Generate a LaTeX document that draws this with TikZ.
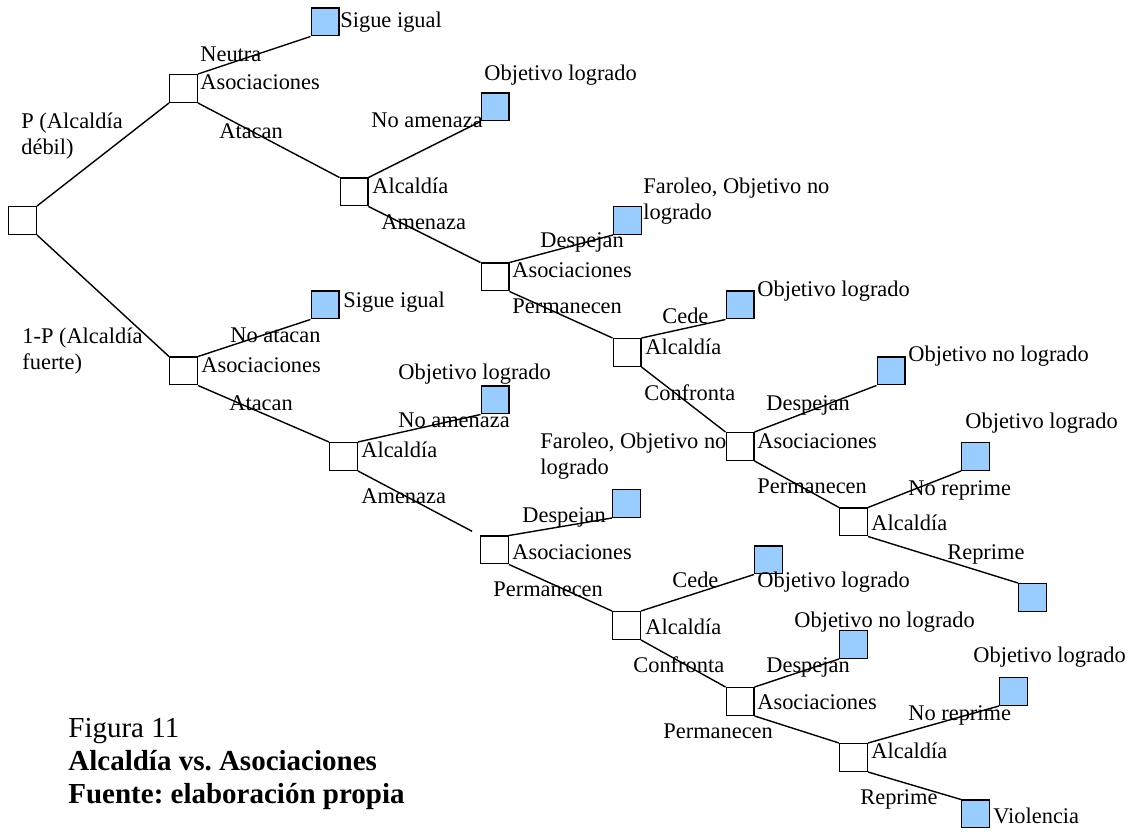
\documentclass[tikz,border=0pt]{standalone}
\usepackage{fontspec}
\setmainfont{Liberation Serif}
\usepackage{tikz}
\definecolor{payblue}{HTML}{99CCFF}
\frenchspacing

\begin{document}
\begin{tikzpicture}[
    x=0.5pt, y=-0.5pt,
    font=\fontsize{11.2}{13}\selectfont,
    decision/.style={rectangle, draw, line width=0.7pt, fill=white, minimum size=13.8pt, inner sep=0pt},
    payoff/.style={decision, fill=payblue},
    lbl/.style={anchor=west, inner sep=0pt, text height=1.6ex, text depth=0.4ex},
    mlbl/.style={anchor=west, inner sep=0pt, align=left},
    branch/.style={line width=0.7pt}
]
    \useasboundingbox (0,0) rectangle (1131,833);

    % Decision boxes
    \node[decision] (root) at (22.5,220.5) {};
    \node[decision] (a1) at (183.5,88.5) {};
    \node[decision] (l1) at (354,192) {};
    \node[decision] (a2) at (495,277) {};
    \node[decision] (l2) at (627,352.5) {};
    \node[decision] (a3) at (740,446.5) {};
    \node[decision] (l3) at (853.5,522) {};
    \node[decision] (a6) at (183.5,371) {};
    \node[decision] (l6) at (343.5,456.5) {};
    \node[decision] (a4) at (494.5,550) {};
    \node[decision] (l4) at (626.5,625.5) {};
    \node[decision] (a5) at (740,701.5) {};
    \node[decision] (l5) at (853.5,757.5) {};

    % Outcome boxes
    \node[payoff] (p1) at (325,22) {};
    \node[payoff] (p2) at (495,107) {};
    \node[payoff] (p3) at (627.5,220.5) {};
    \node[payoff] (p4) at (740,305) {};
    \node[payoff] (p5) at (891,371) {};
    \node[payoff] (p6) at (975.5,456.5) {};
    \node[payoff] (p7) at (1032.5,597.5) {};
    \node[payoff] (p8) at (325,305) {};
    \node[payoff] (p9) at (495,400) {};
    \node[payoff] (p10) at (626.5,503.5) {};
    \node[payoff] (p11) at (768.5,560) {};
    \node[payoff] (p12) at (853.5,644.5) {};
    \node[payoff] (p13) at (1013.5,691.5) {};
    \node[payoff] (p14) at (975.5,814) {};

    % Upper branch labels
    \node[mlbl] (tP) at (21,136) {P (Alcaldía\\débil)};
    \node[lbl] (t1) at (200,56) {Neutra};
    \node[lbl] (t2) at (200,84) {Asociaciones};
    \node[lbl] (t3) at (340,22) {Sigue igual};
    \node[lbl] (t4) at (219,133) {Atacan};
    \node[lbl] (t5) at (484,75) {Objetivo logrado};
    \node[lbl] (t6) at (371,122) {No amenaza};
    \node[lbl] (t7) at (372,188) {Alcaldía};
    \node[lbl] (t8) at (381,224) {Amenaza};
    \node[mlbl] (t9) at (643,201) {Faroleo, Objetivo no\\logrado};
    \node[lbl] (t10) at (540,242) {Despejan};
    \node[lbl] (t11) at (512,272) {Asociaciones};
    \node[lbl] (t12) at (512,308) {Permanecen};
    \node[lbl] (t13) at (757,291) {Objetivo logrado};
    \node[lbl] (t14) at (662,318) {Cede};
    \node[lbl] (t15) at (645,349) {Alcaldía};
    \node[lbl] (t16) at (908,356) {Objetivo no logrado};
    \node[lbl] (t17) at (644,395) {Confronta};
    \node[lbl] (t18) at (766,405) {Despejan};
    \node[lbl] (t19) at (757,443) {Asociaciones};
    \node[lbl] (t20) at (757,488) {Permanecen};
    \node[lbl] (t21) at (965,423) {Objetivo logrado};
    \node[lbl] (t22) at (908,490) {No reprime};
    \node[lbl] (t23) at (871,525) {Alcaldía};
    \node[lbl] (t24) at (947,554) {Reprime};

    % Lower branch labels
    \node[mlbl] (tQ) at (22,351) {1-P (Alcaldía\\fuerte)};
    \node[lbl] (u1) at (343,302) {Sigue igual};
    \node[lbl] (u2) at (230,337) {No atacan};
    \node[lbl] (u3) at (201,367) {Asociaciones};
    \node[lbl] (u4) at (229,405) {Atacan};
    \node[lbl] (u5) at (398,374) {Objetivo logrado};
    \node[lbl] (u6) at (398,422) {No amenaza};
    \node[lbl] (u7) at (361,452) {Alcaldía};
    \node[lbl] (u8) at (361,498) {Amenaza};
    \node[mlbl] (u9) at (540,456) {Faroleo, Objetivo no\\logrado};
    \node[lbl] (u10) at (522,517) {Despejan};
    \node[lbl] (u11) at (512,554) {Asociaciones};
    \node[lbl] (u12) at (493,591) {Permanecen};
    \node[lbl] (u13) at (672,582) {Cede};
    \node[lbl] (u14) at (757,582) {Objetivo logrado};
    \node[lbl] (u15) at (645,629) {Alcaldía};
    \node[lbl] (u16) at (794,622) {Objetivo no logrado};
    \node[lbl] (u17) at (633,667) {Confronta};
    \node[lbl] (u18) at (766,667) {Despejan};
    \node[lbl] (u19) at (757,704) {Asociaciones};
    \node[lbl] (u20) at (663,733) {Permanecen};
    \node[lbl] (u21) at (973,657) {Objetivo logrado};
    \node[lbl] (u22) at (908,715) {No reprime};
    \node[lbl] (u23) at (871,753) {Alcaldía};
    \node[lbl] (u24) at (860,799) {Reprime};
    \node[lbl] (u25) at (993,818) {Violencia};

    % Caption
    \node[mlbl, font=\fontsize{14.5}{16.7}\selectfont] (cap) at (68,764)
        {Figura 11\\\textbf{Alcaldía vs. Asociaciones}\\\textbf{Fuente: elaboración propia}};

    % Branches
    \draw[branch] (root.north east) -- (a1.south west);
    \draw[branch] (root.south east) -- (a6.north west);
    \draw[branch] (a1.north east) -- (p1.south west);
    \draw[branch] (a1.south east) -- (l1.north west);
    \draw[branch] (l1.north east) -- (p2.south west);
    \draw[branch] (l1.south east) -- (a2.north west);
    \draw[branch] (a2.north east) -- (p3.south west);
    \draw[branch] (a2.south east) -- (l2.north west);
    \draw[branch] (l2.north east) -- (p4.south west);
    \draw[branch] (l2.south east) -- (a3.north west);
    \draw[branch] (a3.north east) -- (p5.south west);
    \draw[branch] (a3.south east) -- (l3.north west);
    \draw[branch] (l3.north east) -- (p6.south west);
    \draw[branch] (l3.south east) -- (p7.north west);
    \draw[branch] (a6.north east) -- (p8.south west);
    \draw[branch] (a6.south east) -- (l6.north west);
    \draw[branch] (l6.north east) -- (p9.south west);
    \draw[branch, shorten >=4.5pt] (l6.south east) -- (a4.north west);
    \draw[branch] (a4.north east) -- (p10.south west);
    \draw[branch] (a4.south east) -- (l4.north west);
    \draw[branch] (l4.north east) -- (p11.south west);
    \draw[branch] (l4.south east) -- (a5.north west);
    \draw[branch] (a5.north east) -- (p12.south west);
    \draw[branch] (a5.south east) -- (l5.north west);
    \draw[branch] (l5.north east) -- (p13.south west);
    \draw[branch] (l5.south east) -- (p14.north west);
\end{tikzpicture}
\end{document}
